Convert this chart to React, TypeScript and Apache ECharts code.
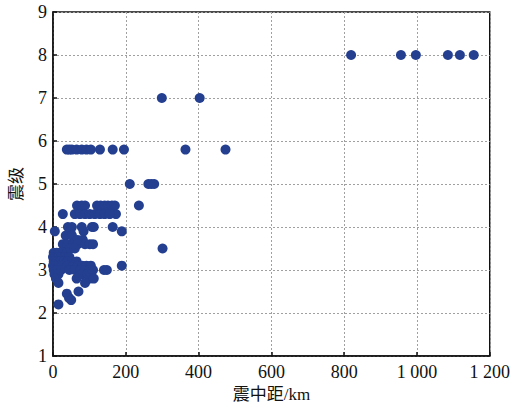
import React, { useEffect, useRef } from "react";
import * as echarts from "echarts";

// Epicentral distance (km) and magnitude pairs
const farPoints: number[][] = [
  [819, 8], [956, 8], [997, 8], [1085, 8], [1118, 8], [1156, 8],
  [299, 7], [403, 7],
  [38, 5.8], [45, 5.8], [52, 5.8], [65, 5.8], [79, 5.8], [92, 5.8], [104, 5.8], [129, 5.8], [164, 5.8], [195, 5.8], [364, 5.8], [474, 5.8],
  [211, 5], [262, 5], [270, 5], [278, 5],
  [236, 4.5], [301, 3.5], [189, 3.1], [140, 3.0], [148, 3.0], [189, 3.9], [164, 4.0], [173, 4.3],
];

const nearPoints: number[][] = [
  [66, 4.5], [79, 4.5], [88, 4.5], [121, 4.5], [131, 4.5], [142, 4.5], [151, 4.5], [162, 4.5], [170, 4.5],
  [27, 4.3], [60, 4.3], [74, 4.3], [88, 4.3], [101, 4.3], [115, 4.3], [129, 4.3], [142, 4.3], [156, 4.3],
  [5, 3.9], [41, 4.0], [52, 4.0], [48, 3.9], [79, 4.0], [84, 3.9], [107, 4.0], [112, 4.0],
  [35, 3.8], [52, 3.8], [68, 3.7], [82, 3.7],
  [27, 3.6], [40, 3.6], [55, 3.6], [68, 3.6], [88, 3.6], [101, 3.6], [110, 3.6],
  [2, 3.4], [10, 3.4], [18, 3.4], [28, 3.4], [38, 3.4], [48, 3.5], [60, 3.5],
  [0, 3.3], [6, 3.3], [14, 3.3], [22, 3.3], [32, 3.3], [45, 3.3],
  [2, 3.2], [10, 3.2], [20, 3.2], [30, 3.2], [40, 3.2], [52, 3.2], [65, 3.2],
  [0, 3.1], [8, 3.1], [16, 3.1], [26, 3.1], [40, 3.1], [55, 3.1], [68, 3.1], [80, 3.1], [92, 3.1], [104, 3.1],
  [2, 3.0], [12, 3.0], [22, 3.0], [45, 3.0], [60, 3.0], [75, 3.0], [88, 3.0], [100, 3.0], [110, 3.0],
  [4, 2.9], [15, 2.9], [80, 2.9], [95, 2.9], [105, 2.9],
  [8, 2.8], [65, 2.8], [101, 2.8], [112, 2.8],
  [15, 2.7], [88, 2.7],
  [70, 2.5], [38, 2.45],
  [44, 2.35], [50, 2.3],
  [15, 2.2],
];

const xTicks = { min: 0, max: 1200, interval: 200 };
const yTicks = { min: 1, max: 9, interval: 1 };

const xTitle = "震中距/km";
const yTitle = "震级";

const FONT = "'Liberation Serif', 'Times New Roman', 'Noto Sans CJK SC', serif";

export default function App() {
  const ref = useRef<HTMLDivElement>(null);
  useEffect(() => {
    if (!ref.current) return;
    const chart = echarts.init(ref.current, undefined, { renderer: "svg" });
    const axisCommon = {
      axisLine: { show: true, lineStyle: { color: "#111", width: 1.5 } },
      axisTick: { show: true, inside: true, length: 4, lineStyle: { color: "#111", width: 1.5 } },
      splitLine: { show: true, lineStyle: { color: "#a0a0a0", type: [2, 2] as any, width: 1 } },
      axisLabel: { color: "#111", fontSize: 18, fontFamily: FONT },
      nameTextStyle: { color: "#111", fontSize: 17, fontFamily: FONT },
    };
    chart.setOption({
      animation: false,
      backgroundColor: "#fff",
      grid: { left: 53, right: 22, top: 12, bottom: 54, show: true, borderColor: "#111", borderWidth: 1.5, backgroundColor: "transparent" },
      xAxis: {
        type: "value",
        ...xTicks,
        ...axisCommon,
        axisLabel: {
          ...axisCommon.axisLabel,
          margin: 7,
          formatter: (v: number) => (v >= 1000 ? `${Math.floor(v / 1000)} ${String(v % 1000).padStart(3, "0")}` : String(v)),
        },
        name: xTitle,
        nameLocation: "middle",
        nameGap: 30,
      },
      yAxis: {
        type: "value",
        ...yTicks,
        ...axisCommon,
        axisLabel: { ...axisCommon.axisLabel, margin: 6 },
        name: yTitle,
        nameLocation: "middle",
        nameGap: 28,
      },
      series: [
        {
          type: "scatter",
          data: [...farPoints, ...nearPoints],
          symbolSize: 10,
          clip: false,
          itemStyle: { color: "#243f8f", opacity: 1 },
        },
      ],
    });
    return () => chart.dispose();
  }, []);
  return <div ref={ref} style={{ width: 513, height: 410, position: "absolute", left: 0, top: 0 }} />;
}
